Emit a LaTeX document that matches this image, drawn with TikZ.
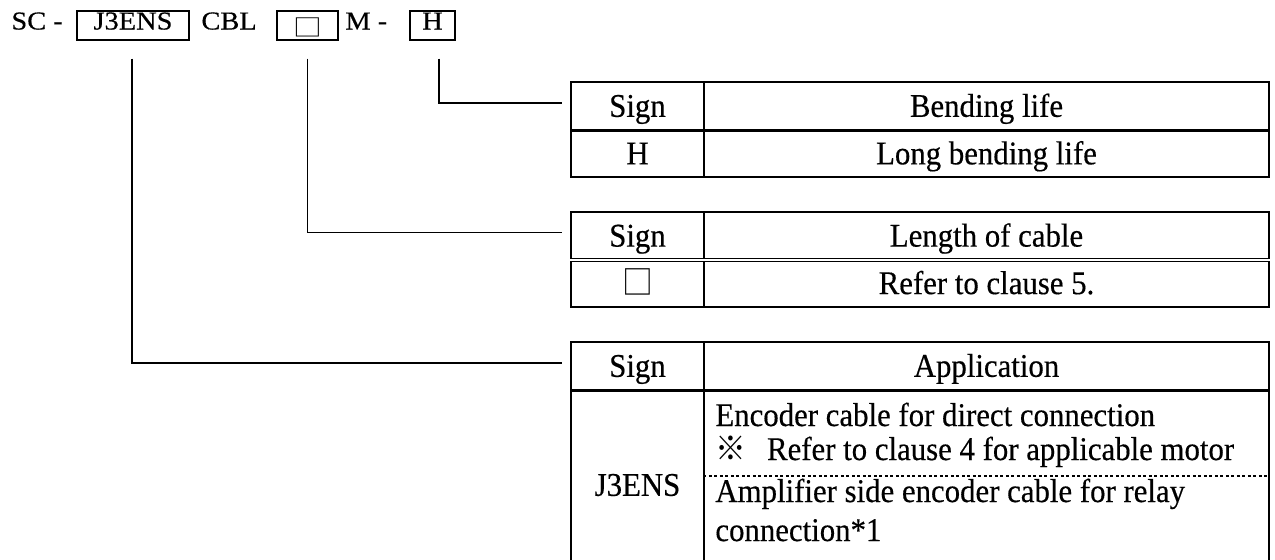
\documentclass[tikz,border=0pt]{standalone}
\usepackage{fontspec}
\setmainfont{Liberation Serif}
\newfontfamily\codeface[FakeStretch=1.1, FakeBold=0.4]{Liberation Serif}
\newfontfamily\codesym[FakeStretch=1.2]{Noto Sans CJK JP}
\newfontfamily\tableface[FakeStretch=0.93, FakeBold=0.4]{Liberation Serif}
\newfontfamily\tablesym[FakeStretch=0.93]{Noto Sans CJK JP}
\newcommand{\codefnt}{\codeface\fontsize{12.4pt}{13pt}\selectfont}
\newcommand{\tablefnt}{\tableface\fontsize{15.9pt}{16.3pt}\selectfont}
\newcommand{\pxu}{0.48pt}
\usetikzlibrary{calc}

\tikzset{
  codetext/.style={font=\codefnt, inner sep=0pt, anchor=base west},
  codebox/.style={draw, line width=0.72pt, font=\codefnt, inner xsep=0pt, inner ysep=0pt,
                  text height=8.9pt, text depth=5pt, anchor=base},
  cell/.style={draw, line width=0.62pt, font=\tablefnt, inner sep=0pt,
               text height=10.4pt, text depth=0pt},
  celltext/.style={font=\tablefnt, inner sep=0pt, anchor=base west},
  link/.style={line width=0.62pt},
  headrule/.style={line width=1.44pt},
  splitrule/.style={line width=0.5pt, dash pattern=on 1.44pt off 1.2pt},
}

\begin{document}
\begin{tikzpicture}[x=0.48pt, y=-0.48pt]
\useasboundingbox (0,0) rectangle (1275,559);
\clip (0,0) rectangle (1275,559);

% --- Model code ---
\node[codetext] (sc) at (11,29.5) {SC -};
\node[codebox, minimum width=112*\pxu] (jbox) at (133,29.5) {J3ENS};
\node[codetext] (cbl) at (201,29.5) {CBL};
\node[codebox, minimum width=61*\pxu] (lbox) at (307.5,29.5) {\raisebox{-3.4pt}{\fontsize{11.5pt}{13pt}\codesym □}};
\node[codetext] (m) at (345,29.5) {M -};
\node[codebox, minimum width=45*\pxu] (hbox) at (432.5,29.5) {H};

% --- Table 1: Bending life ---
\node[cell, minimum width=133*\pxu, minimum height=48*\pxu] (t1sign) at (637.5,106) {Sign};
\node[cell, minimum width=565*\pxu, minimum height=48*\pxu] (t1head) at (986.5,106) {Bending life};
\node[cell, minimum width=133*\pxu, minimum height=47*\pxu] (t1h) at (637.5,153.5) {H};
\node[cell, minimum width=565*\pxu, minimum height=47*\pxu] (t1long) at (986.5,153.5) {Long bending life};
\draw[headrule] (t1sign.south west) -- (t1head.south east);

% --- Table 2: Length of cable ---
\node[cell, minimum width=133*\pxu, minimum height=47.5*\pxu] (t2sign) at (637.5,235.75) {Sign};
\node[cell, minimum width=565*\pxu, minimum height=47.5*\pxu] (t2head) at (986.5,235.75) {Length of cable};
\node[cell, minimum width=133*\pxu, minimum height=47.5*\pxu] (t2box) at (637.5,283.25) {\tablesym □};
\node[cell, minimum width=565*\pxu, minimum height=47.5*\pxu] (t2ref) at (986.5,283.25) {Refer to clause 5.};
\draw[double, line width=0.48pt, double distance=0.72pt] (t2sign.south west) -- (t2head.south east);

% --- Table 3: Application ---
\node[cell, minimum width=133*\pxu, minimum height=48*\pxu] (t3sign) at (637.5,366) {Sign};
\node[cell, minimum width=565*\pxu, minimum height=48*\pxu] (t3head) at (986.5,366) {Application};
\node[cell, minimum width=133*\pxu, minimum height=190*\pxu] (t3j) at (637.5,485) {J3ENS};
\node[cell, minimum width=565*\pxu, minimum height=190*\pxu] (t3app) at (986.5,485) {};
\draw[headrule] (t3sign.south west) -- (t3head.south east);
\node[celltext] (t3l1) at (715,426) {Encoder cable for direct connection};
\node[celltext] (t3l2) at (715,460) {{\tablesym ※}\hspace{10pt}Refer to clause 4 for applicable motor};
\draw[splitrule] ($(t3app.west)+(0,-9)$) -- ($(t3app.east)+(0,-9)$);
\node[celltext] (t3l3) at (715,502) {Amplifier side encoder cable for relay};
\node[celltext] (t3l4) at (715,541) {connection*1};

% --- Leader lines ---
\coordinate (hstart) at ($(hbox.south)+(6.5,18)$);
\coordinate (hend) at ($(t1sign.west)+(-8,-3)$);
\coordinate (lstart) at ($(lbox.south)+(0,18)$);
\coordinate (lend) at ($(t2sign.west)+(-8,-3)$);
\coordinate (jstart) at ($(jbox.south)+(-1,18)$);
\coordinate (jend) at ($(t3sign.west)+(-8,-3)$);
\draw[link] (hstart) |- (hend);
\draw[link] (lstart) |- (lend);
\draw[link] (jstart) |- (jend);

\end{tikzpicture}
\end{document}
